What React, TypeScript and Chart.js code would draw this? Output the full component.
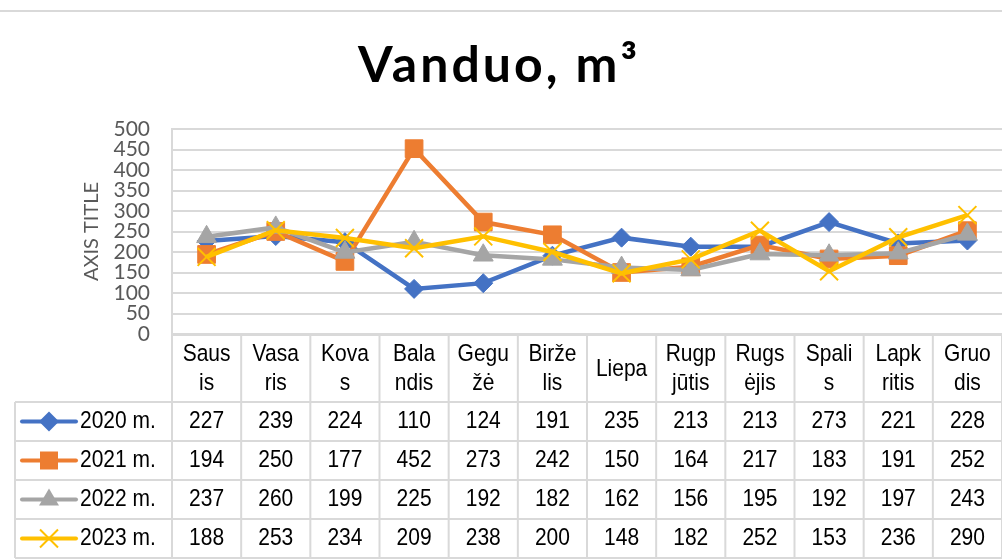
import React, { useEffect, useRef } from 'react';
import { Chart, registerables } from 'chart.js';
Chart.register(...registerables);

const chartTitle = 'Vanduo, m³';
const axisTitle = 'AXIS TITLE';
const categories: string[][] = [
  ['Saus', 'is'], ['Vasa', 'ris'], ['Kova', 's'], ['Bala', 'ndis'], ['Gegu', 'žė'], ['Birže', 'lis'],
  ['Liepa'], ['Rugp', 'jūtis'], ['Rugs', 'ėjis'], ['Spali', 's'], ['Lapk', 'ritis'], ['Gruo', 'dis'],
];
const seriesNames = ['2020 m.', '2021 m.', '2022 m.', '2023 m.'];
const values2020 = [227, 239, 224, 110, 124, 191, 235, 213, 213, 273, 221, 228];
const values2021 = [194, 250, 177, 452, 273, 242, 150, 164, 217, 183, 191, 252];
const values2022 = [237, 260, 199, 225, 192, 182, 162, 156, 195, 192, 197, 243];
const values2023 = [188, 253, 234, 209, 238, 200, 148, 182, 252, 153, 236, 290];
const seriesValues = [values2020, values2021, values2022, values2023];
const seriesColors = ['#4472C4', '#ED7D31', '#A5A5A5', '#FFC000'];
const seriesMarkers = ['rectRot', 'rect', 'triangle', 'crossRot'];
const markerRadius = [9.5, 12.5, 11.5, 12.7];
const yMin = 0;
const yMax = 500;
const yStep = 50;

const GRID = '#d9d9d9';
const TABLE_FONT = '"Liberation Sans", Arial, sans-serif';

function stretchedText(ctx: CanvasRenderingContext2D, s: string, x: number, y: number, size: number, align: CanvasTextAlign) {
  ctx.save();
  ctx.translate(x, y);
  ctx.scale(1, 1.18);
  ctx.font = `${size}px ${TABLE_FONT}`;
  ctx.textAlign = align;
  ctx.textBaseline = 'middle';
  ctx.fillStyle = '#000';
  ctx.fillText(s, 0, 0);
  ctx.restore();
}

function legendMarker(ctx: CanvasRenderingContext2D, kind: string, x: number, y: number, color: string) {
  ctx.save();
  ctx.fillStyle = color;
  ctx.strokeStyle = color;
  ctx.beginPath();
  if (kind === 'rectRot') {
    const h = 10;
    ctx.moveTo(x - h, y); ctx.lineTo(x, y - h); ctx.lineTo(x + h, y); ctx.lineTo(x, y + h); ctx.closePath(); ctx.fill();
  } else if (kind === 'rect') {
    ctx.rect(x - 9, y - 9, 18, 18); ctx.fill();
  } else if (kind === 'triangle') {
    ctx.moveTo(x, y - 11); ctx.lineTo(x + 10, y + 6); ctx.lineTo(x - 10, y + 6); ctx.closePath(); ctx.fill();
  } else {
    ctx.lineWidth = 2;
    ctx.moveTo(x - 9, y - 9); ctx.lineTo(x + 9, y + 9);
    ctx.moveTo(x + 9, y - 9); ctx.lineTo(x - 9, y + 9);
    ctx.stroke();
  }
  ctx.restore();
}

const decorPlugin = {
  id: 'decor',
  afterDraw(chart: any) {
    const ctx: CanvasRenderingContext2D = chart.ctx;
    const area = chart.chartArea;
    const xs = chart.scales.x;
    const n = categories.length;
    const colW = (area.right - area.left) / n;

    // top frame line
    ctx.save();
    ctx.strokeStyle = GRID;
    ctx.lineWidth = 2;
    ctx.beginPath();
    ctx.moveTo(0, 11); ctx.lineTo(1002, 11);
    ctx.stroke();
    ctx.restore();

    // chart title
    ctx.save();
    ctx.font = 'bold 50px Lato, "Open Sans", sans-serif';
    ctx.fillStyle = '#000';
    ctx.textAlign = 'center';
    ctx.textBaseline = 'alphabetic';
    (ctx as any).letterSpacing = '3px';
    ctx.fillText(chartTitle, 499, 82);
    ctx.restore();

    // axis title
    ctx.save();
    ctx.translate(92, (area.top + area.bottom) / 2);
    ctx.rotate(-Math.PI / 2);
    ctx.font = '20px Lato, "Open Sans", sans-serif';
    ctx.fillStyle = '#595959';
    ctx.textAlign = 'center';
    ctx.textBaseline = 'middle';
    ctx.fillText(axisTitle, 0, 0);
    ctx.restore();

    // data table
    const headTop = area.bottom;
    const headBottom = 402;
    const rowH = 39;
    const tableBottom = headBottom + rowH * seriesNames.length;
    const legendLeft = 15;

    ctx.save();
    ctx.strokeStyle = GRID;
    ctx.lineWidth = 2;
    ctx.beginPath();
    ctx.moveTo(area.left, headTop + 1); ctx.lineTo(area.right, headTop + 1);
    for (let r = 0; r <= seriesNames.length; r++) {
      const y = headBottom + r * rowH;
      ctx.moveTo(legendLeft, y); ctx.lineTo(area.right, y);
    }
    for (let c = 0; c <= n; c++) {
      const x = area.left + c * colW;
      ctx.moveTo(x, headTop); ctx.lineTo(x, tableBottom);
    }
    ctx.moveTo(legendLeft, headBottom); ctx.lineTo(legendLeft, tableBottom);
    ctx.stroke();
    ctx.restore();

    // header labels
    categories.forEach((lines, i) => {
      const cx = xs.getPixelForValue(i);
      if (lines.length === 1) {
        stretchedText(ctx, lines[0], cx, 369, 21, 'center');
      } else {
        stretchedText(ctx, lines[0], cx, 354, 21, 'center');
        stretchedText(ctx, lines[1], cx, 383, 21, 'center');
      }
    });

    // rows
    seriesNames.forEach((name, r) => {
      const cy = headBottom + r * rowH + rowH / 2;
      ctx.save();
      ctx.strokeStyle = seriesColors[r];
      ctx.lineWidth = 4;
      ctx.lineCap = 'round';
      ctx.beginPath();
      ctx.moveTo(22, cy); ctx.lineTo(76, cy);
      ctx.stroke();
      ctx.restore();
      legendMarker(ctx, seriesMarkers[r], 49, cy, seriesColors[r]);
      stretchedText(ctx, name, 80, cy, 21, 'left');
      seriesValues[r].forEach((v, i) => {
        stretchedText(ctx, String(v), xs.getPixelForValue(i), cy, 21, 'center');
      });
    });
  },
};

export default function App() {
  const ref = useRef<HTMLCanvasElement | null>(null);
  useEffect(() => {
    if (!ref.current) return;
    const chart = new Chart(ref.current, {
      type: 'line',
      data: {
        labels: categories.map((c) => c.join('')),
        datasets: seriesNames.map((name, i) => ({
          label: name,
          data: seriesValues[i],
          borderColor: seriesColors[i],
          backgroundColor: seriesColors[i],
          pointBackgroundColor: seriesColors[i],
          pointBorderColor: seriesColors[i],
          pointBorderWidth: i === 3 ? 2 : 1,
          pointStyle: seriesMarkers[i] as any,
          pointRadius: markerRadius[i],
          borderWidth: 4.5,
          tension: 0,
          order: 3 - i,
        })),
      },
      options: {
        responsive: false,
        animation: false,
        events: [],
        layout: { autoPadding: false, padding: { top: 129, bottom: 226, left: 0, right: 0 } },
        plugins: { legend: { display: false }, title: { display: false }, tooltip: { enabled: false } },
        scales: {
          x: { display: false, offset: true },
          y: {
            min: yMin,
            max: yMax,
            afterFit: (s: any) => { s.width = 172; },
            ticks: {
              stepSize: yStep,
              autoSkip: false,
              padding: 22,
              color: '#595959',
              font: { family: 'Lato, "Open Sans", sans-serif', size: 21 },
            },
            grid: { color: GRID, lineWidth: 2, drawTicks: false },
            border: { display: true, color: GRID, width: 2 },
          },
        },
      },
      plugins: [decorPlugin],
    });
    return () => chart.destroy();
  }, []);
  return (
    <div style={{ position: 'fixed', left: 0, top: 0, width: 1002, height: 560, overflow: 'hidden', background: '#fff' }}>
      <canvas ref={ref} width={1002} height={560} style={{ display: 'block' }} />
    </div>
  );
}
